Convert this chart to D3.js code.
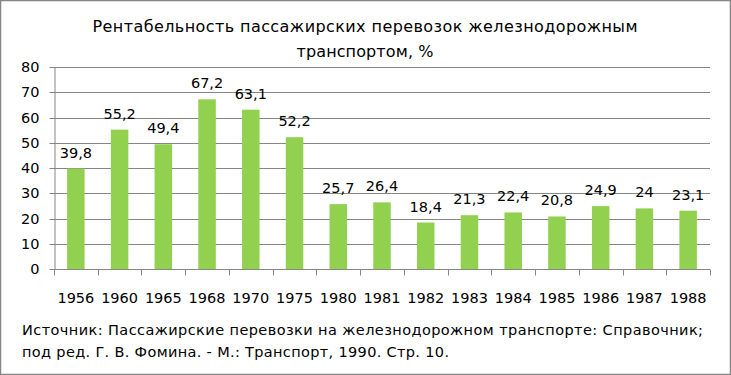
<!DOCTYPE html>
<html>
<head>
<meta charset="utf-8">
<script src="https://cdn.jsdelivr.net/npm/d3@7"></script>
<style>
  html, body { margin: 0; padding: 0; background: #fff; }
  svg { display: block; font-family: "DejaVu Sans", sans-serif; }
  .axis path, .axis line { stroke: #868686; }
  .axis text { fill: #000; font-size: 14.5px; font-family: "DejaVu Sans", sans-serif; }
</style>
</head>
<body>
<svg id="chart" width="731" height="375"></svg>
<script>
(function () {
  "use strict";

  const years  = ["1956", "1960", "1965", "1968", "1970", "1975", "1980", "1981", "1982", "1983", "1984", "1985", "1986", "1987", "1988"];
  const values = [39.8, 55.2, 49.4, 67.2, 63.1, 52.2, 25.7, 26.4, 18.4, 21.3, 22.4, 20.8, 24.9, 24, 23.1];
  const yTicks = [0, 10, 20, 30, 40, 50, 60, 70, 80];
  const titleLines  = ["Рентабельность пассажирских перевозок железнодорожным", "транспортом, %"];
  const sourceLines = ["Источник: Пассажирские перевозки на железнодорожном транспорте: Справочник;",
                       "под ред. Г. В. Фомина. - М.: Транспорт, 1990. Стр. 10."];

  const fmtVal = v => String(v).replace(".", ",");

  const svg = d3.select("#chart");
  const margin = { top: 67, left: 54, right: 21, bottom: 106 };
  const W = 731 - margin.left - margin.right;
  const H = 375 - margin.top - margin.bottom;

  // frame
  svg.append("rect")
    .attr("x", 0.5).attr("y", 0.5).attr("width", 730).attr("height", 374)
    .attr("fill", "#fff").attr("stroke", "#868686").attr("stroke-width", 1.5);

  // title (stretched to match the original width)
  const titleW = [545, 137];
  svg.append("g").selectAll("text")
    .data(titleLines)
    .join("text")
    .attr("x", 365).attr("y", (d, i) => 32 + i * 25)
    .attr("text-anchor", "middle")
    .attr("textLength", (d, i) => titleW[i])
    .attr("lengthAdjust", "spacing")
    .style("font-size", "16px")
    .text(d => d);

  const g = svg.append("g").attr("transform", `translate(${margin.left},${margin.top})`);

  const x = d3.scaleBand().domain(years).range([0, W]).paddingInner(0.6).paddingOuter(0.3);
  const y = d3.scaleLinear().domain([0, 80]).range([H, 0]);

  // grid
  g.append("g").selectAll("line")
    .data(yTicks.slice(1))
    .join("line")
    .attr("x1", 0).attr("x2", W)
    .attr("y1", d => Math.round(y(d)) + 0.5).attr("y2", d => Math.round(y(d)) + 0.5)
    .attr("stroke", "#868686");

  // y axis
  g.append("g").attr("class", "axis")
    .attr("transform", "translate(0.5,0)")
    .call(d3.axisLeft(y).tickValues(yTicks).tickSize(5).tickSizeOuter(0).tickPadding(10))
    .call(a => a.selectAll(".tick").attr("transform", d => `translate(0,${Math.round(y(d)) + 0.5})`));

  // bars
  g.selectAll(".bar")
    .data(values)
    .join("rect")
    .attr("class", "bar")
    .attr("x", (d, i) => x(years[i]))
    .attr("y", d => y(d))
    .attr("width", x.bandwidth())
    .attr("height", d => H - y(d))
    .attr("fill", "#92D050");

  // x axis with ticks at category boundaries
  const xa = g.append("g").attr("class", "axis")
    .attr("transform", `translate(0,${Math.round(H) + 0.5})`);
  xa.append("line").attr("x1", 0).attr("x2", W).attr("stroke", "#868686");
  xa.selectAll(".tk")
    .data(d3.range(years.length + 1))
    .join("line")
    .attr("x1", i => Math.round(i * W / years.length) + 0.5)
    .attr("x2", i => Math.round(i * W / years.length) + 0.5)
    .attr("y1", 0).attr("y2", 6)
    .attr("stroke", "#868686");
  xa.selectAll(".lbl")
    .data(years)
    .join("text")
    .attr("x", d => x(d) + x.bandwidth() / 2)
    .attr("y", 33)
    .attr("text-anchor", "middle")
    .style("font-size", "14.5px")
    .text(d => d);

  // value labels
  g.selectAll(".val")
    .data(values)
    .join("text")
    .attr("x", (d, i) => x(years[i]) + x.bandwidth() / 2)
    .attr("y", d => y(d) - 11)
    .attr("text-anchor", "middle")
    .style("font-size", "14.5px")
    .text(fmtVal);

  // source (stretched to match the original width)
  const sourceW = [681, 427];
  svg.append("g").selectAll("text")
    .data(sourceLines)
    .join("text")
    .attr("x", 22).attr("y", (d, i) => 335 + i * 22)
    .attr("textLength", (d, i) => sourceW[i])
    .attr("lengthAdjust", "spacing")
    .style("font-size", "14.5px")
    .text(d => d);
})();
</script>
</body>
</html>
